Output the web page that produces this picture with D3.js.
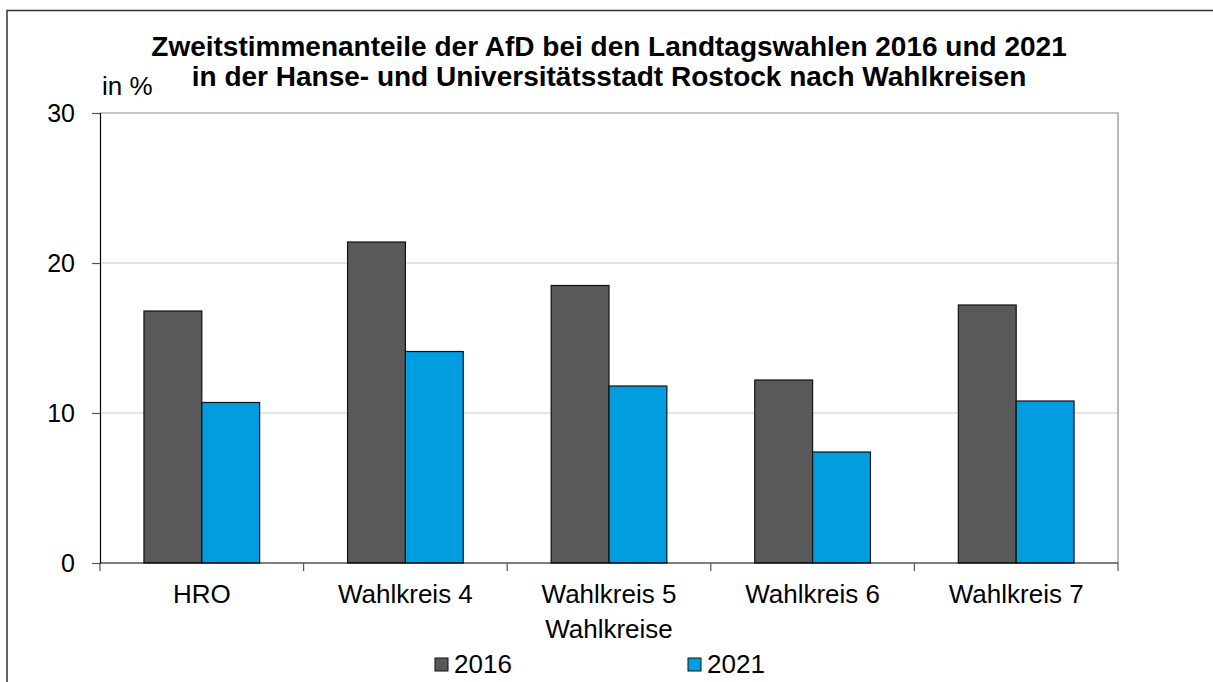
<!DOCTYPE html>
<html>
<head>
  <meta charset="utf-8">
  <title>AfD Zweitstimmenanteile Rostock</title>
  <script src="https://d3js.org/d3.v7.min.js"></script>
  <style>
    body { margin: 0; background: #fff; }
    text { font-family: "Liberation Sans", Arial, sans-serif; fill: #000; }
  </style>
</head>
<body>
  <svg width="1213" height="682"></svg>
  <script>
    // Data
    var categories = ["HRO", "Wahlkreis 4", "Wahlkreis 5", "Wahlkreis 6", "Wahlkreis 7"];
    var series = ["2016", "2021"];
    var values2016 = [16.8, 21.4, 18.5, 12.2, 17.2];
    var values2021 = [10.7, 14.1, 11.8, 7.4, 10.8];
    var yTicks = [0, 10, 20, 30];
    var colors = ["#595959", "#009ee0"];

    var svg = d3.select("svg");

    // Outer frame
    svg.append("rect")
      .attr("x", 7).attr("y", 10.5)
      .attr("width", 1240).attr("height", 700)
      .attr("fill", "none")
      .attr("stroke", "#333")
      .attr("stroke-width", 1.5);

    var plotLeft = 100, plotRight = 1118, plotTop = 113, plotBottom = 563;

    // Scales
    var x0 = d3.scaleBand().domain(categories).range([plotLeft, plotRight]).padding(0);
    var x1 = d3.scaleBand().domain(series).range([0, x0.bandwidth()]).paddingInner(0).paddingOuter(0.76);
    var y = d3.scaleLinear().domain([0, 30]).range([plotBottom, plotTop]);

    // Gridlines
    svg.append("g")
      .selectAll("line")
      .data([10, 20])
      .enter()
      .append("line")
      .attr("x1", plotLeft).attr("x2", plotRight)
      .attr("y1", function(d) { return y(d); })
      .attr("y2", function(d) { return y(d); })
      .attr("stroke", "#dcdcdc")
      .attr("stroke-width", 1.5);

    // Plot area border (top and right)
    svg.append("path")
      .attr("d", "M" + plotLeft + "," + y(30) + "H" + plotRight + "V" + plotBottom)
      .attr("fill", "none")
      .attr("stroke", "#8c8c8c")
      .attr("stroke-width", 1.2);

    // Bars
    var rows = categories.map(function(c, i) {
      return { cat: c, vals: [values2016[i], values2021[i]] };
    });

    svg.append("g")
      .selectAll("g")
      .data(rows)
      .enter()
      .append("g")
      .attr("transform", function(d) { return "translate(" + x0(d.cat) + ",0)"; })
      .selectAll("rect")
      .data(function(d) { return d.vals.map(function(v, j) { return { s: series[j], v: v, j: j }; }); })
      .enter()
      .append("rect")
      .attr("x", function(d) { return x1(d.s); })
      .attr("y", function(d) { return y(d.v); })
      .attr("width", x1.bandwidth())
      .attr("height", function(d) { return y(0) - y(d.v); })
      .attr("fill", function(d) { return colors[d.j]; })
      .attr("stroke", "#111")
      .attr("stroke-width", 1.2);

    // Y axis
    var yAxis = svg.append("g")
      .attr("transform", "translate(" + plotLeft + ",0)")
      .call(d3.axisLeft(y).tickValues(yTicks).tickSize(8).tickPadding(17).tickFormat(d3.format("d")));
    yAxis.select(".domain").attr("stroke", "#000").attr("stroke-width", 1.2);
    yAxis.selectAll(".tick line").attr("stroke", "#555").attr("stroke-width", 1.2);
    yAxis.selectAll("text").style("font-size", "25px").attr("fill", "#000");

    // X axis line
    svg.append("line")
      .attr("x1", plotLeft).attr("x2", plotRight)
      .attr("y1", plotBottom).attr("y2", plotBottom)
      .attr("stroke", "#000").attr("stroke-width", 1.2);

    // X ticks at category boundaries
    var boundaries = categories.map(function(c) { return x0(c); }).concat([x0.range()[1]]);
    svg.append("g")
      .selectAll("line")
      .data(boundaries)
      .enter()
      .append("line")
      .attr("x1", function(d) { return d; }).attr("x2", function(d) { return d; })
      .attr("y1", plotBottom).attr("y2", plotBottom + 8)
      .attr("stroke", "#555").attr("stroke-width", 1.2);

    // X labels
    var xAxis = svg.append("g")
      .attr("transform", "translate(0," + plotBottom + ")")
      .call(d3.axisBottom(x0).tickSize(0).tickPadding(22));
    xAxis.select(".domain").remove();
    xAxis.selectAll("text").style("font-size", "26px").attr("fill", "#000");

    // Axis titles
    svg.append("text")
      .attr("x", (plotLeft + plotRight) / 2).attr("y", 638)
      .attr("text-anchor", "middle")
      .style("font-size", "26px")
      .text("Wahlkreise");

    svg.append("text")
      .attr("x", 102).attr("y", 95)
      .style("font-size", "26px")
      .text("in %");

    // Title
    var title = svg.append("text")
      .attr("text-anchor", "middle")
      .style("font-size", "28px")
      .style("font-weight", "bold");
    title.append("tspan").attr("x", 609).attr("y", 56)
      .text("Zweitstimmenanteile der AfD bei den Landtagswahlen 2016 und 2021");
    title.append("tspan").attr("x", 609).attr("y", 86)
      .text("in der Hanse- und Universitätsstadt Rostock nach Wahlkreisen");

    // Legend
    var legendX = [435, 688];
    var legend = svg.append("g")
      .selectAll("g")
      .data(series)
      .enter()
      .append("g")
      .attr("transform", function(d, i) { return "translate(" + legendX[i] + ",658)"; });
    legend.append("rect")
      .attr("width", 13).attr("height", 13)
      .attr("fill", function(d, i) { return colors[i]; })
      .attr("stroke", "#111").attr("stroke-width", 1);
    legend.append("text")
      .attr("x", 19).attr("y", 15)
      .style("font-size", "26px")
      .text(function(d) { return d; });
  </script>
</body>
</html>
